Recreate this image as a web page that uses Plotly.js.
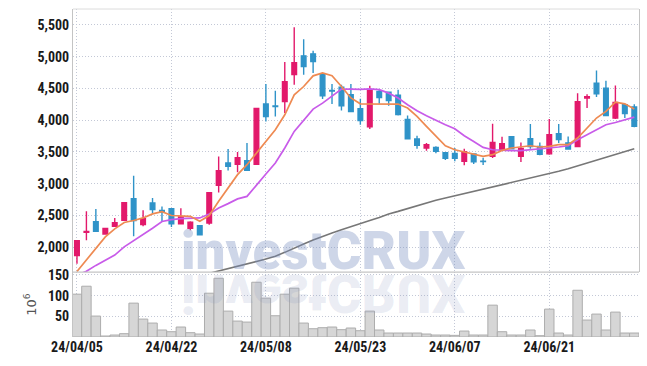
<!DOCTYPE html>
<html>
<head>
<meta charset="utf-8">
<script src="https://cdn.plot.ly/plotly-3.0.1.min.js"></script>
<style>
  html, body { margin: 0; padding: 0; background: #ffffff; }
  #chart { width: 647px; height: 366px; }
</style>
</head>
<body>
<div id="chart"></div>
<script>
// ---- data ----
const dates = [
  '24/04/05','24/04/08','24/04/09','24/04/11','24/04/12','24/04/15','24/04/16','24/04/17','24/04/18','24/04/19',
  '24/04/22','24/04/23','24/04/24','24/04/25','24/04/26','24/04/29','24/04/30','24/05/02','24/05/03','24/05/07',
  '24/05/08','24/05/09','24/05/10','24/05/13','24/05/14','24/05/16','24/05/17','24/05/20','24/05/21','24/05/22',
  '24/05/23','24/05/24','24/05/27','24/05/28','24/05/29','24/05/30','24/05/31','24/06/03','24/06/04','24/06/05',
  '24/06/07','24/06/10','24/06/11','24/06/12','24/06/13','24/06/14','24/06/17','24/06/18','24/06/19','24/06/20',
  '24/06/21','24/06/24','24/06/25','24/06/26','24/06/27','24/06/28','24/07/01','24/07/02','24/07/03','24/07/04'
];
const openP = [
  1870,2235,2404,2210,2330,2424,2765,2357,2698,2580,
  2608,2368,2298,2341,2383,2974,3326,3305,3363,3305,
  4254,4225,4295,4719,5013,5044,4730,4470,4521,4400,
  4180,3896,4452,4442,4395,4012,3704,3562,3572,3488,
  3477,3352,3468,3355,3430,3535,3740,3430,3708,3587,
  3470,3787,3640,3587,4350,4584,4505,4034,4243,4207
];
const highP = [
  2110,2566,2603,2300,2462,2710,3127,2581,2776,2640,
  2620,2613,2410,2345,2870,3430,3546,3500,3640,4190,
  4568,4463,4914,5464,5275,5091,4740,4568,4557,4568,
  4337,4541,4478,4450,4478,4075,3756,3640,3590,3490,
  3562,3551,3480,3410,3944,3740,3745,3650,3939,3650,
  4018,3939,3745,4426,4410,4782,4620,4546,4250,4250
];
const lowP = [
  1740,2110,2240,2205,2320,2420,2173,2330,2540,2410,
  2320,2360,2267,2190,2355,2864,3210,3180,3200,3295,
  3980,4060,4112,4557,4714,4741,4332,4254,4153,4126,
  3928,3860,4258,4227,4075,3695,3551,3520,3480,3373,
  3352,3289,3311,3295,3405,3515,3545,3342,3551,3450,
  3455,3640,3540,3580,4191,4364,4070,4020,4034,3890
];
const closeP = [
  2105,2250,2250,2295,2388,2702,2420,2451,2593,2555,
  2370,2478,2393,2195,2860,3205,3273,3410,3210,4185,
  4059,4215,4604,4903,4845,4923,4384,4460,4227,4138,
  3996,4463,4357,4310,4090,3708,3603,3614,3509,3400,
  3400,3504,3347,3348,3650,3630,3551,3556,3587,3462,
  3771,3697,3546,4290,4370,4416,4075,4279,4106,3902
];
const volume = [
  103.5,122.8,50.6,2.4,4.8,8,81.9,43.3,33.7,16.9,
  12.8,24.1,10.4,7.2,105.9,142,62.6,38.5,36.1,132.4,
  93.9,51.4,103.5,118,33.7,20,22.5,24.1,17.7,21.7,
  15.2,62.6,16.9,9.6,9.6,9.6,9.6,7.2,4.8,4.8,
  4,14.4,4.8,4.8,77,12.8,4.8,4.8,16.9,3.2,
  67.4,9.6,4.8,113,41,55.4,16.9,60.2,9.6,9.6
];
const ma5 = [
  1620,1807,1990,2163,2290,2390,2422,2462,2525,2560,
  2500,2498,2487,2409,2500,2723,2933,3143,3300,3484,
  3666,3850,4085,4400,4530,4698,4745,4700,4530,4350,
  4258,4258,4258,4262,4254,4191,4059,3902,3745,3598,
  3535,3499,3472,3430,3457,3525,3562,3578,3598,3578,
  3588,3614,3614,3719,3876,4034,4138,4285,4258,4175
];
const ma20 = [
  1560,1622,1715,1795,1878,2006,2100,2197,2300,2405,
  2435,2451,2462,2462,2525,2619,2687,2761,2801,2985,
  3153,3326,3562,3823,4007,4175,4269,4380,4490,4489,
  4484,4494,4480,4426,4348,4243,4148,4070,3996,3928,
  3865,3755,3666,3572,3535,3525,3520,3520,3535,3540,
  3562,3578,3598,3693,3771,3850,3928,3964,4007,4049
];
const ma120 = [
  null,null,null,null,null,null,null,null,null,null,
  null,null,null,null,1590,1625,1660,1700,1740,1775,
  1815,1860,1920,1990,2050,2115,2175,2225,2275,2320,
  2370,2420,2470,2525,2565,2610,2650,2700,2740,2775,
  2810,2840,2875,2905,2940,2975,3010,3050,3085,3120,
  3160,3195,3235,3280,3325,3375,3420,3465,3510,3550
];
const xTickLabels = ['24/04/05','24/04/22','24/05/08','24/05/23','24/06/07','24/06/21'];
const priceTicks = [2000,2500,3000,3500,4000,4500,5000,5500];
const volumeTicks = [50,100,150];
const watermark = 'investCRUX';

// ---- styles ----
const UP = '#e2196b', DOWN = '#2f93c8';
const tickFont = {family: 'Liberation Sans Narrow, Roboto Condensed, Arial Narrow, sans-serif', size: 14, color: '#1a1a1a', weight: 'bold'};
const gridCol = '#c3c8d6';
const gridDash = '1px,2px';
const volDomTop = 0.198;

const traces = [
  {
    type: 'bar', x: dates, y: volume, xaxis: 'x', yaxis: 'y2',
    marker: {color: '#d6d6d6', line: {color: '#adadad', width: 1}},
    hoverinfo: 'skip'
  },
  {
    type: 'scatter', mode: 'lines', x: dates, y: ma120, xaxis: 'x', yaxis: 'y',
    line: {color: '#777777', width: 1.6}, connectgaps: false, hoverinfo: 'skip'
  },
  {
    type: 'scatter', mode: 'lines', x: dates, y: ma20, xaxis: 'x', yaxis: 'y',
    line: {color: '#c85be9', width: 1.7}, hoverinfo: 'skip'
  },
  {
    type: 'scatter', mode: 'lines', x: dates, y: ma5, xaxis: 'x', yaxis: 'y',
    line: {color: '#ee8a52', width: 1.7}, hoverinfo: 'skip'
  },
  {
    type: 'candlestick', x: dates, open: openP, high: highP, low: lowP, close: closeP,
    xaxis: 'x', yaxis: 'y',
    increasing: {line: {color: UP, width: 1.4}, fillcolor: UP},
    decreasing: {line: {color: DOWN, width: 1.4}, fillcolor: DOWN},
    whiskerwidth: 0, hoverinfo: 'skip'
  }
];

const layout = {
  width: 647, height: 366,
  margin: {l: 73, r: 8, t: 9, b: 29},
  paper_bgcolor: '#ffffff', plot_bgcolor: '#ffffff',
  showlegend: false,
  bargap: 0,
  hovermode: false,
  xaxis: {
    type: 'category', anchor: 'y2', range: [-0.42, 59.5],
    tickmode: 'array', tickvals: xTickLabels, ticktext: xTickLabels,
    showgrid: true, gridcolor: gridCol, griddash: gridDash, gridwidth: 1,
    showline: false, zeroline: false, ticks: '',
    tickfont: tickFont, rangeslider: {visible: false}
  },
  yaxis: {
    domain: [volDomTop, 1], range: [1610, 5750],
    tickmode: 'array', tickvals: priceTicks, tickformat: ',d',
    showgrid: true, gridcolor: gridCol, griddash: gridDash, gridwidth: 1,
    showline: true, linecolor: '#c4c4c4', linewidth: 1, mirror: true,
    zeroline: false, ticks: '', tickfont: tickFont
  },
  yaxis2: {
    domain: [0, volDomTop], range: [0, 157],
    tickmode: 'array', tickvals: volumeTicks,
    showgrid: true, gridcolor: gridCol, griddash: gridDash, gridwidth: 1,
    showline: true, linecolor: '#c4c4c4', linewidth: 1,
    zeroline: false, ticks: '', tickfont: tickFont,
    title: {text: '10<sup>6</sup>', font: {family: 'DejaVu Sans, sans-serif', size: 13, color: '#555'}, standoff: 8}
  },
  shapes: [
    {type: 'line', xref: 'paper', yref: 'paper', x0: 0, x1: 1, y0: 1, y1: 1, line: {color: '#dcdcdc', width: 1}},
    {type: 'line', xref: 'paper', yref: 'paper', x0: 0, x1: 1, y0: volDomTop, y1: volDomTop, line: {color: '#c4c4c4', width: 1.2}}
  ],
  annotations: [
    {text: watermark, xref: 'paper', yref: 'paper', x: 0.441, y: 0.262, xanchor: 'center', yanchor: 'middle',
     showarrow: false, font: {family: 'Roboto, sans-serif', size: 53, weight: 900, color: 'rgba(120,140,190,0.36)'}},
    {text: watermark, xref: 'paper', yref: 'paper', x: 0.441, y: 0.262, xanchor: 'center', yanchor: 'middle',
     showarrow: false, font: {family: 'Roboto, sans-serif', size: 53, weight: 900, color: 'rgba(130,145,190,0.16)'}}
  ]
};

Plotly.newPlot('chart', traces, layout, {displayModeBar: false, staticPlot: true}).then(function (gd) {
  const fl = gd._fullLayout;
  const yMirror = fl._size.t + fl._size.h * (1 - volDomTop);
  const anns = gd.querySelectorAll('.annotation');
  if (anns.length > 1) {
    anns[1].setAttribute('transform', 'translate(0,' + (2 * yMirror) + ') scale(1,-1)');
  }
});
</script>
</body>
</html>
